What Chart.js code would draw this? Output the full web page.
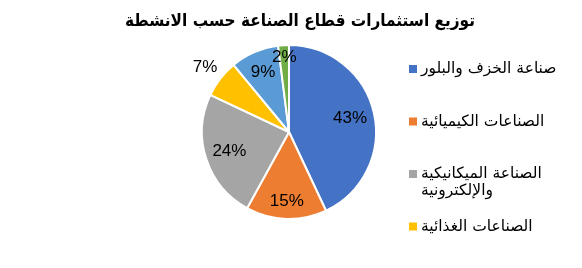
<!DOCTYPE html>
<html>
<head>
<meta charset="utf-8">
<script src="https://cdn.jsdelivr.net/npm/chart.js@4"></script>
<style>
  html, body { margin: 0; padding: 0; background: #fff; }
  #wrap { width: 582px; height: 268px; }
</style>
</head>
<body>
<div id="wrap"><canvas id="chart"></canvas></div>
<script>
// data
const titleText = 'توزيع استثمارات قطاع الصناعة حسب الانشطة';
const categories = [
  'صناعة الخزف والبلور',
  'الصناعات الكيميائية',
  'الصناعة الميكانيكية والإلكترونية',
  'الصناعات الغذائية',
  'صناعة النسيج والجلود',
  'صناعات أخرى'
];
const shares = [43, 15, 24, 7, 9, 2];
const colors = ['#4472C4', '#ED7D31', '#A5A5A5', '#FFC000', '#5B9BD5', '#70AD47'];

// how far out each percent label sits (fraction of radius)
const labelRadius = [0.72, 0.8, 0.72, 1.22, 0.75, 0.86];
const legendShown = 4;
const arabicFont = '"DejaVu Sans", sans-serif';

// split a label into lines no wider than maxW
function wrapText(ctx, text, maxW) {
  const words = text.split(' ');
  const lines = [];
  let line = '';
  words.forEach((w) => {
    const test = line ? line + ' ' + w : w;
    if (line && ctx.measureText(test).width > maxW) {
      lines.push(line);
      line = w;
    } else {
      line = test;
    }
  });
  if (line) lines.push(line);
  return lines;
}

const extras = {
  id: 'extras',
  afterDraw(chart) {
    const ctx = chart.ctx;
    const meta = chart.getDatasetMeta(0);

    // title, sits a bit right of the pie centre like the original
    ctx.save();
    ctx.font = 'bold 17px ' + arabicFont;
    ctx.fillStyle = '#000';
    ctx.textAlign = 'center';
    ctx.textBaseline = 'middle';
    ctx.fillText(titleText, 300, 22, 350);
    ctx.restore();

    // percent labels on the slices
    ctx.save();
    ctx.font = '17px "Liberation Sans", Arial, sans-serif';
    ctx.fillStyle = '#000';
    ctx.textAlign = 'center';
    ctx.textBaseline = 'middle';
    meta.data.forEach((arc, i) => {
      const p = arc.getProps(['x', 'y', 'startAngle', 'endAngle', 'outerRadius'], true);
      const mid = (p.startAngle + p.endAngle) / 2;
      const r = p.outerRadius * labelRadius[i];
      ctx.fillText(shares[i] + '%', p.x + Math.cos(mid) * r, p.y + Math.sin(mid) * r);
    });
    ctx.restore();

    // legend on the right, only what fits in the box
    ctx.save();
    ctx.font = '15.5px ' + arabicFont;
    ctx.direction = 'rtl';
    ctx.textAlign = 'left';
    ctx.textBaseline = 'middle';
    let y = 69;
    for (let i = 0; i < legendShown; i++) {
      ctx.fillStyle = colors[i];
      ctx.fillRect(409, y - 4, 8, 8);
      ctx.fillStyle = '#000';
      const lines = wrapText(ctx, categories[i], 145);
      lines.forEach((ln, k) => ctx.fillText(ln, 421, y + k * 17));
      y += 52.5;
    }
    ctx.restore();
  }
};

new Chart(document.getElementById('chart'), {
  type: 'pie',
  data: {
    labels: categories,
    datasets: [{
      data: shares,
      backgroundColor: colors,
      borderColor: '#fff',
      borderWidth: 2
    }]
  },
  options: {
    responsive: true,
    maintainAspectRatio: false,
    animation: false,
    layout: { padding: { left: 150, right: 154, top: 44, bottom: 48 } },
    plugins: {
      legend: { display: false },
      tooltip: { enabled: false },
      title: { display: false }
    }
  },
  plugins: [extras]
});
</script>
</body>
</html>
